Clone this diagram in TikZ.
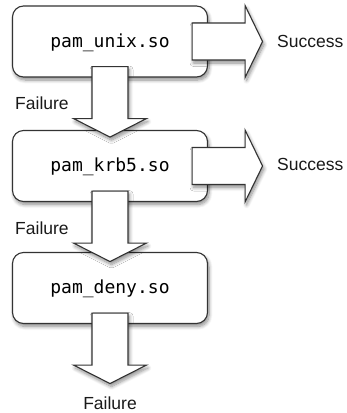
\documentclass[tikz,border=0pt]{standalone}
\usepackage{fontspec}
\setmainfont{Liberation Sans}
\newfontfamily\codefont{DejaVu Sans Mono}
\usetikzlibrary{calc,shadows.blur}

\begin{document}
\begin{tikzpicture}[x=1pt,y=-1pt,
  outline/.style={draw=black!80, line width=1.1pt, fill=white,
    blur shadow={shadow xshift=1.5pt, shadow yshift=-3pt,
      shadow blur radius=3.5pt, shadow blur steps=8, shadow opacity=45}},
  module/.style={outline, rounded corners=11pt, minimum width=195pt,
    minimum height=71pt, inner sep=0pt, text height=15pt, text depth=4pt,
    font=\codefont\fontsize{18}{20}\selectfont},
  outcome/.style={font=\fontsize{17.5}{20}\selectfont, inner sep=0pt, text=black!90},
  blockarrow/.style={outline, line join=miter}]

\useasboundingbox (0,0) rectangle (346,413);

% PAM modules, tried from top to bottom
\node[module] (unix) at (110,41.5) {pam\_unix.so};
\node[module] (krb5) at (110,166) {pam\_krb5.so};
\node[module] (deny) at (110,288) {pam\_deny.so};

% "Success" arrows leaving to the right
\foreach \m in {unix,krb5}
  \draw[blockarrow] ($(\m.east)+(-16,-18.5)$) -- ++(53,0) -- ++(0,-17.5)
    -- ++(17.5,36) -- ++(-17.5,36) -- ++(0,-17.5) -- ++(-53,0) -- cycle;

% "Failure" arrows going down
\foreach \m in {unix,krb5,deny}
  \draw[blockarrow] ($(\m.south)+(-18,-11)$) -- ++(0,52) -- ++(-18.5,0)
    -- ++(36.5,18.5) -- ++(36.5,-18.5) -- ++(-18.5,0) -- ++(0,-52) -- cycle;

% outcome labels
\node[outcome, anchor=base west] (ok1) at (277,47) {Success};
\node[outcome, anchor=base west] (ok2) at (277,170) {Success};
\node[outcome, anchor=base west] (fail1) at (15,109) {Failure};
\node[outcome, anchor=base west] (fail2) at (15,234) {Failure};
\node[outcome, anchor=base] (fail3) at (110,409) {Failure};
\end{tikzpicture}
\end{document}
